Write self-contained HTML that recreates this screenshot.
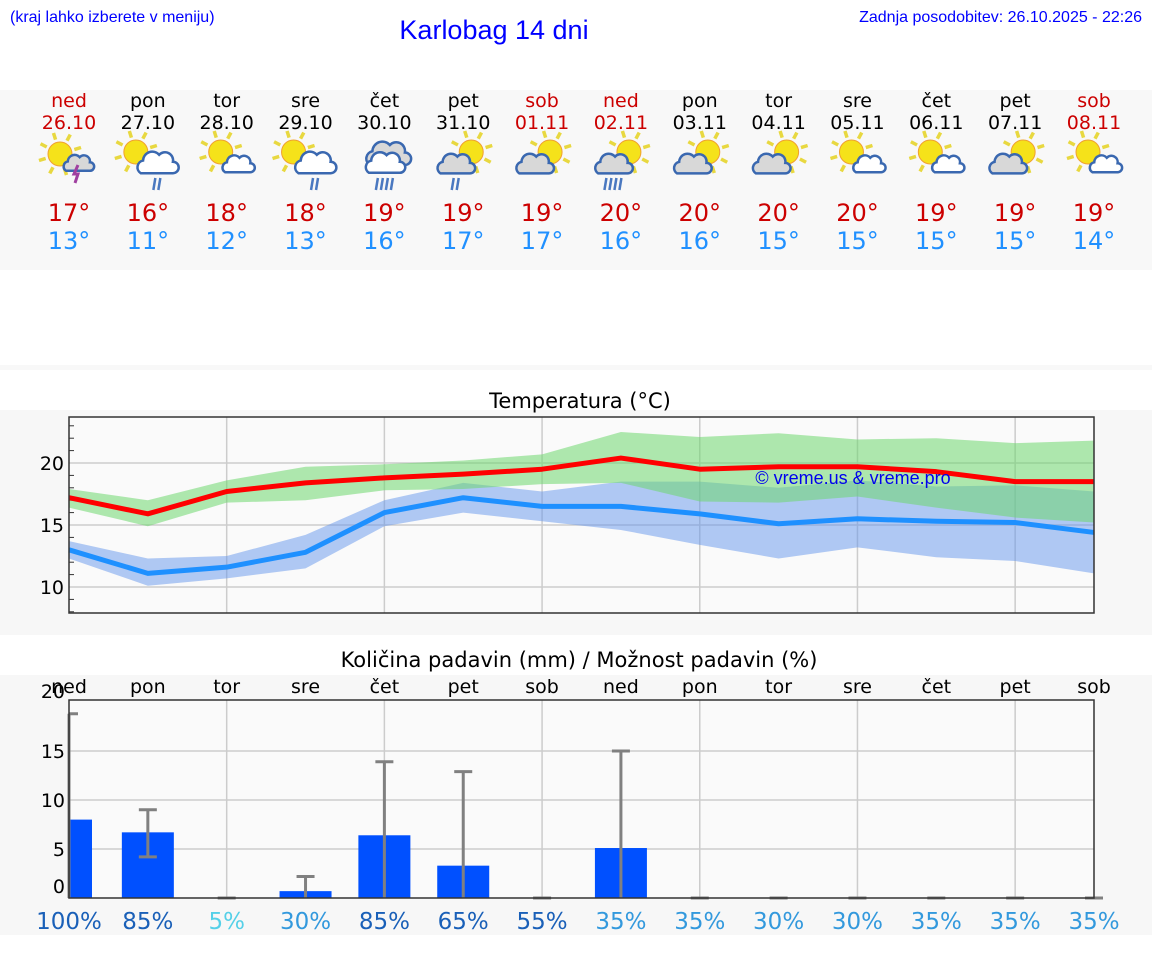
<!DOCTYPE html>
<html><head><meta charset="utf-8"><style>
html,body{margin:0;padding:0;background:#fff;width:1152px;height:975px;overflow:hidden}
svg{display:block}
text{font-family:"DejaVu Sans","Liberation Sans",sans-serif}
</style></head><body>
<svg id="s" width="1152" height="975" xmlns="http://www.w3.org/2000/svg">
<rect x="0" y="90" width="1152" height="180" fill="#f8f8f8"/>
<rect x="0" y="365" width="1152" height="5" fill="#f8f8f8"/>
<rect x="0" y="410" width="1152" height="225" fill="#f7f7f7"/>
<rect x="0" y="675" width="1152" height="260" fill="#f7f7f7"/>
<text x="10" y="22" font-size="16" fill="#0000ff" style="font-family:'Liberation Sans',sans-serif">(kraj lahko izberete v meniju)</text>
<text x="494" y="39" font-size="27" fill="#0000ff" text-anchor="middle" style="font-family:'Liberation Sans',sans-serif">Karlobag 14 dni</text>
<text x="1142" y="22" font-size="16" fill="#0000ff" text-anchor="end" style="font-family:'Liberation Sans',sans-serif">Zadnja posodobitev: 26.10.2025 - 22:26</text>
<text x="580" y="408" font-size="21" text-anchor="middle" fill="#000">Temperatura (°C)</text>
<text x="579" y="667" font-size="21" text-anchor="middle" fill="#000">Količina padavin (mm) / Možnost padavin (%)</text>
<g id="topg"></g><g id="temp"></g><g id="prec"></g>
</svg>
<script>
const days=["ned","pon","tor","sre","čet","pet","sob","ned","pon","tor","sre","čet","pet","sob"];
const dates=["26.10","27.10","28.10","29.10","30.10","31.10","01.11","02.11","03.11","04.11","05.11","06.11","07.11","08.11"];
const weekend=[1,0,0,0,0,0,1,1,0,0,0,0,0,1];
const icons=["storm","rain","partly","rain","heavyrain","rainleft","cloudleft","rainleft4","cloudleft","cloudleft","partly","partly","cloudleft","partly"];
const tmaxDay=[17,16,18,18,19,19,19,20,20,20,20,19,19,19];
const tminDay=[13,11,12,13,16,17,17,16,16,15,15,15,15,14];
const tMax=[17.2,15.9,17.7,18.4,18.8,19.1,19.5,20.4,19.5,19.7,19.7,19.3,18.5,18.5];
const tMaxHi=[17.9,17.0,18.6,19.7,19.9,20.2,20.7,22.5,22.1,22.4,21.9,22.0,21.6,21.8];
const tMaxLo=[16.4,14.9,16.8,17.0,17.8,17.9,18.3,18.4,16.9,16.8,17.3,16.4,15.6,15.2];
const tMin=[13.0,11.1,11.6,12.8,16.0,17.2,16.5,16.5,15.9,15.1,15.5,15.3,15.2,14.4];
const tMinHi=[13.7,12.3,12.5,14.2,17.0,18.4,17.7,18.5,18.5,18.0,18.6,18.1,18.2,17.7];
const tMinLo=[12.3,10.1,10.7,11.5,14.9,16.0,15.3,14.6,13.4,12.3,13.2,12.4,12.1,11.1];
const tempTicks=[10,15,20];
const precip=[8.0,6.7,0,0.7,6.4,3.3,0,5.1,0,0,0,0,0,0];
const precipErrLo=[0,4.2,0,0,0,0,0,0,0,0,0,0,0,0];
const precipErrHi=[18.8,9.0,0,2.2,13.9,12.9,0,15.0,0,0,0,0,0,0];
const chance=[100,85,5,30,85,65,55,35,35,30,30,35,35,35];
const precipTicks=[0,5,10,15,20];

const NS="http://www.w3.org/2000/svg";
function mk(tag,at,parent){const e=document.createElementNS(NS,tag);for(const k in at)e.setAttribute(k,at[k]);parent.appendChild(e);return e;}
const X0=69,X1=1094,n=14;
const xd=i=>X0+i*(X1-X0)/(n-1);
const topG=document.getElementById('topg');

function sun(g,cx,cy,r){
  for(let k=0;k<8;k++){const a=k*Math.PI/4-0.3;
    mk('line',{x1:cx+Math.cos(a)*(r+3),y1:cy+Math.sin(a)*(r+3),x2:cx+Math.cos(a)*(r+10),y2:cy+Math.sin(a)*(r+10),stroke:'#e8d840','stroke-width':3.5},g);}
  mk('circle',{cx:cx,cy:cy,r:r,fill:'#f5e21a',stroke:'#f0a030','stroke-width':1},g);
}
function cloud(g,cx,cy,s,fill){
  const d=`M${cx-14*s},${cy+8*s} a${6*s},${6*s} 0 0 1 ${2*s},${-11*s} a${8*s},${8*s} 0 0 1 ${14*s},${-5*s} a${7*s},${7*s} 0 0 1 ${12*s},${6*s} a${5*s},${5*s} 0 0 1 ${0},${10*s} z`;
  mk('path',{d:d,fill:fill,stroke:'#3a68b0','stroke-width':2.5},g);
}
function rain(g,cx,cy,k){for(let j=0;j<k;j++)mk('line',{x1:cx+j*5-(k-1)*2.5+1,y1:cy,x2:cx+j*5-(k-1)*2.5-1,y2:cy+12,stroke:'#4a78c0','stroke-width':2.5},g);}
function icon(i,t){
  const cx=xd(i),cy=158;
  const g=mk('g',{},topG);
  
  
  if(t=='storm'){sun(g,cx-9,cy-4,12);cloud(g,cx+9,cy+6,0.85,'#d8d8d8');mk('path',{d:`M${cx+9},${cy+7} l-4,9 h4 l-3,9`,stroke:'#a040a0','stroke-width':3,fill:'none'},g);}
  else if(t=='rain'){sun(g,cx-12,cy-6,12);cloud(g,cx+9,cy+6,1.15,'#fff');rain(g,cx+9,cy+20,2);}
  else if(t=='partly'){sun(g,cx-6,cy-6,12);cloud(g,cx+11,cy+7,0.9,'#fff');}
  else if(t=='heavyrain'){cloud(g,cx+3,cy-3,1.25,'#d8d8d8');cloud(g,cx,cy+6,1.1,'#fff');rain(g,cx,cy+20,4);}
  else if(t=='rainleft'){sun(g,cx+8,cy-6,12);cloud(g,cx-8,cy+7,1.05,'#d8d8d8');rain(g,cx-8,cy+20,2);}
  else if(t=='rainleft4'){sun(g,cx+8,cy-6,12);cloud(g,cx-8,cy+7,1.05,'#d8d8d8');rain(g,cx-8,cy+20,4);}
  else {sun(g,cx+8,cy-6,12);cloud(g,cx-8,cy+7,1.05,'#d8d8d8');}
}
for(let i=0;i<n;i++){
  const c=weekend[i]?'#cc0000':'#000';
  let t=mk('text',{x:xd(i),y:107,'font-size':19,'text-anchor':'middle',fill:c},topG);t.textContent=days[i];
  
  
  t=mk('text',{x:xd(i),y:129,'font-size':19,'text-anchor':'middle',fill:c},topG);t.textContent=dates[i];
  
  
  icon(i,icons[i]);
  t=mk('text',{x:xd(i),y:221,'font-size':24,'text-anchor':'middle',fill:'#cc0000'},topG);t.textContent=tmaxDay[i]+'°';
  
  
  t=mk('text',{x:xd(i),y:249,'font-size':24,'text-anchor':'middle',fill:'#2090ff'},topG);t.textContent=tminDay[i]+'°';
  
  
}

// temperature chart
const tg=document.getElementById('temp');
const TY0=417,TY1=613;
const ty=v=>463-(v-20)*12.4;
mk('rect',{x:X0,y:TY0,width:X1-X0,height:TY1-TY0,fill:'#fafafa'},tg);
for(let i=2;i<n;i+=2){mk('line',{x1:xd(i),x2:xd(i),y1:TY0,y2:TY1,stroke:'#ccc','stroke-width':1.5},tg);}
for(const v of tempTicks){
  mk('line',{x1:X0,x2:X1,y1:ty(v),y2:ty(v),stroke:'#ccc','stroke-width':1.5},tg);
  const t=mk('text',{x:X0-5,y:ty(v)+7,'font-size':19,'text-anchor':'end',fill:'#000'},tg);t.textContent=v;
  
  
}
for(let v=8;v<=23;v++){if(v%5)mk('line',{x1:X0,x2:X0+5,y1:ty(v),y2:ty(v),stroke:'#333','stroke-width':1},tg);}
function band(hi,lo,fill,name){
  let d='M'+hi.map((v,i)=>xd(i)+','+ty(v)).join(' L')+' L'+lo.map((v,i)=>xd(i)+','+ty(v)).reverse().join(' L')+'Z';
  const p=mk('path',{d:d,fill:fill},tg);
  
  
}
band(tMinHi,tMinLo,'rgba(100,150,235,0.5)','min-temp-range');
band(tMaxHi,tMaxLo,'rgba(110,215,110,0.55)','max-temp-range');
function line(a,col,name){
  const p=mk('polyline',{points:a.map((v,i)=>xd(i)+','+ty(v)).join(' '),fill:'none',stroke:col,'stroke-width':5,'stroke-linejoin':'round'},tg);
  
  
}
line(tMax,'#ff0000','max-temp-line');
line(tMin,'#1e90ff','min-temp-line');
mk('rect',{x:X0,y:TY0,width:X1-X0,height:TY1-TY0,fill:'none',stroke:'#333','stroke-width':1.5},tg);
let w=mk('text',{x:853,y:484,'font-size':18,'text-anchor':'middle',fill:'#0000ee',style:"font-family:'Liberation Sans',sans-serif"},tg);w.textContent='© vreme.us & vreme.pro';



// precipitation chart
const pg=document.getElementById('prec');
const PY0=700,PY1=898;
const py=v=>PY1-v*9.8;
mk('rect',{x:X0,y:PY0,width:X1-X0,height:PY1-PY0,fill:'#fafafa'},pg);
for(let i=2;i<n;i+=2){mk('line',{x1:xd(i),x2:xd(i),y1:PY0,y2:PY1,stroke:'#ccc','stroke-width':1.5},pg);}
for(const v of precipTicks){
  if(v>0&&v<20)mk('line',{x1:X0,x2:X1,y1:py(v),y2:py(v),stroke:'#ccc','stroke-width':1.5},pg);
  const t=mk('text',{x:X0-4,y:(v==0?py(v)-5:(v==20?py(v)-4:py(v)+7)),'font-size':19,'text-anchor':'end',fill:'#000'},pg);t.textContent=v;
  
  
}
const pcol=p=>p<=10?'#55d0e8':(p<=50?'#3399dd':'#1a60b8');
for(let i=0;i<n;i++){
  const x=xd(i);
  let t=mk('text',{x:x,y:693,'font-size':19,'text-anchor':'middle',fill:'#000'},pg);t.textContent=days[i];
  
  
  if(precip[i]>0){
    const bx=Math.max(X0,x-26),bw=(x-26<X0)?x+26-X0-3:52;
    const b=mk('rect',{x:bx,y:py(precip[i]),width:bw,height:precip[i]*9.8,fill:'#0050ff'},pg);
    
    
  }
  const e=mk('g',{},pg);
  
  
  mk('line',{x1:x,x2:x,y1:py(precipErrLo[i]),y2:py(precipErrHi[i]),stroke:'#808080','stroke-width':3},e);
  mk('line',{x1:Math.max(X0,x-9),x2:x+9,y1:py(precipErrHi[i]),y2:py(precipErrHi[i]),stroke:'#808080','stroke-width':3},e);
  if(precipErrLo[i]>0)mk('line',{x1:x-9,x2:x+9,y1:py(precipErrLo[i]),y2:py(precipErrLo[i]),stroke:'#808080','stroke-width':3},e);
  t=mk('text',{x:x,y:929,'font-size':23,'text-anchor':'middle',fill:pcol(chance[i])},pg);t.textContent=chance[i]+'%';
  
  
}
mk('rect',{x:X0,y:PY0,width:X1-X0,height:PY1-PY0,fill:'none',stroke:'#333','stroke-width':1.5},pg);
</script>
</body></html>
